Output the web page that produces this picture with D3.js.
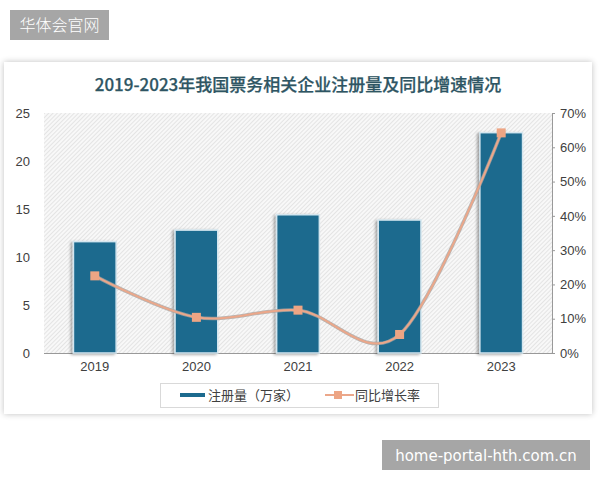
<!DOCTYPE html>
<meta charset="utf-8">
<style>
body { margin: 0; background: #fff; }
text { font-family: "Liberation Sans", "Noto Sans CJK SC", sans-serif; }
.cjk { font-family: "Noto Sans CJK SC", sans-serif; }
</style>
<body>
<script src="https://cdn.jsdelivr.net/npm/d3@7"></script>
<script>

var years = ["2019", "2020", "2021", "2022", "2023"];
var registered = [11.6, 12.8, 14.4, 13.85, 22.95];   // 万家
var growth = [22.5, 10.4, 12.5, 5.4, 64.2];          // %
var leftTicks = [0, 5, 10, 15, 20, 25];
var rightTicks = [0, 10, 20, 30, 40, 50, 60, 70];

var width = 600,
    height = 480;

var svg = d3.select("body").append("svg")
    .attr("width", width)
    .attr("height", height);

var defs = svg.append("defs");

// card shadow
var shadow = defs.append("filter").attr("id", "cardShadow")
    .attr("x", "-5%").attr("y", "-5%").attr("width", "110%").attr("height", "110%");
shadow.append("feGaussianBlur").attr("in", "SourceAlpha").attr("stdDeviation", 3);
shadow.append("feComponentTransfer").append("feFuncA").attr("type", "linear").attr("slope", 0.25);
var merge = shadow.append("feMerge");
merge.append("feMergeNode");
merge.append("feMergeNode").attr("in", "SourceGraphic");

// bar shadow
var barShadow = defs.append("filter").attr("id", "barShadow")
    .attr("x", "-30%").attr("y", "-10%").attr("width", "160%").attr("height", "120%");
barShadow.append("feGaussianBlur").attr("in", "SourceAlpha").attr("stdDeviation", 1.5);
barShadow.append("feOffset").attr("dx", -2).attr("dy", 1).attr("result", "off");
barShadow.append("feComponentTransfer").append("feFuncA").attr("type", "linear").attr("slope", 0.35);
var bm = barShadow.append("feMerge");
bm.append("feMergeNode");
bm.append("feMergeNode").attr("in", "SourceGraphic");

// hatch background
var hatch = defs.append("pattern").attr("id", "hatch")
    .attr("patternUnits", "userSpaceOnUse")
    .attr("width", 3).attr("height", 3)
    .attr("patternTransform", "rotate(45)");
hatch.append("rect").attr("width", 3).attr("height", 3).attr("fill", "#f8f8f8");
hatch.append("line").attr("x1", 0).attr("y1", 0).attr("x2", 0).attr("y2", 3)
    .attr("stroke", "#d0d0d0").attr("stroke-width", 1);

/*
  Watermarks
*/
svg.append("rect").attr("x", 10).attr("y", 10).attr("width", 99).attr("height", 30).attr("fill", "#a6a6a6");
svg.append("text").attr("class", "cjk").attr("x", 59.5).attr("y", 31)
    .attr("text-anchor", "middle").attr("fill", "#fff").attr("font-size", 16)
    .attr("font-weight", 300)
    .text("华体会官网");

svg.append("rect").attr("x", 382).attr("y", 440).attr("width", 208).attr("height", 30).attr("fill", "#a6a6a6");
svg.append("text").attr("x", 486).attr("y", 461)
    .attr("text-anchor", "middle").attr("fill", "#fff").attr("font-size", 15)
    .style("font-family", "'DejaVu Sans', sans-serif")
    .text("home-portal-hth.com.cn");

/*
  Card
*/
svg.append("rect")
    .attr("x", 4).attr("y", 62).attr("width", 588).attr("height", 352)
    .attr("fill", "#fff")
    .attr("filter", "url(#cardShadow)");

svg.append("text").attr("class", "cjk")
    .attr("x", 298).attr("y", 91)
    .attr("text-anchor", "middle")
    .attr("font-size", 17).attr("font-weight", 500)
    .attr("fill", "#2e5563")
    .attr("stroke", "#2e5563").attr("stroke-width", 0.25)
    .text("2019-2023年我国票务相关企业注册量及同比增速情况");

/*
  Scales
*/
var x = d3.scaleBand().domain(years).range([44, 552]).paddingInner(0.58).paddingOuter(0.29);
var yL = d3.scaleLinear().domain([0, 25]).range([353, 113]);
var yR = d3.scaleLinear().domain([0, 70]).range([353, 113]);

svg.append("rect")
    .attr("x", 44).attr("y", 113).attr("width", 508).attr("height", 240)
    .attr("fill", "url(#hatch)");

/*
  Axes
*/
var leftAxis = svg.append("g")
    .attr("transform", "translate(44,0)")
    .call(d3.axisLeft(yL).tickValues(leftTicks).tickSize(0).tickPadding(14));
leftAxis.select(".domain").remove();

var rightAxis = svg.append("g")
    .attr("transform", "translate(552,0)")
    .call(d3.axisRight(yR).tickValues(rightTicks).tickSize(3).tickPadding(5)
      .tickFormat(function(d) { return d + "%"; }));
rightAxis.select(".domain").attr("stroke", "#999");
rightAxis.selectAll(".tick line").attr("stroke", "#999");

var bottomAxis = svg.append("g")
    .attr("transform", "translate(0,353)")
    .call(d3.axisBottom(x).tickSize(0).tickPadding(9));
bottomAxis.select(".domain").attr("stroke", "#999").attr("d", "M44,0.5H552");

svg.selectAll(".tick text")
    .attr("font-size", 13)
    .attr("fill", "#404040")
    .style("font-family", "'Liberation Sans', sans-serif");

/*
  Bars
*/
svg.append("g").selectAll("rect")
    .data(registered)
    .enter().append("rect")
    .attr("x", function(d, i) { return x(years[i]); })
    .attr("y", function(d) { return yL(d); })
    .attr("width", x.bandwidth())
    .attr("height", function(d) { return yL(0) - yL(d); })
    .attr("fill", "#1c6a8e")
    .attr("stroke", "#d4e6ef")
    .attr("stroke-width", 1.5)
    .attr("filter", "url(#barShadow)");

/*
  Growth line
*/
var line = d3.line()
    .x(function(d, i) { return x(years[i]) + x.bandwidth() / 2; })
    .y(function(d) { return yR(d); })
    .curve(d3.curveCardinal.tension(0));

svg.append("path")
    .datum(growth)
    .attr("d", line)
    .attr("fill", "none")
    .attr("stroke", "#a9a4a0")
    .attr("stroke-width", 3.5)
    .attr("opacity", 0.8);

svg.append("path")
    .datum(growth)
    .attr("d", line)
    .attr("fill", "none")
    .attr("stroke", "#eba78a")
    .attr("stroke-width", 2);

svg.append("g").selectAll("rect")
    .data(growth)
    .enter().append("rect")
    .attr("x", function(d, i) { return x(years[i]) + x.bandwidth() / 2 - 4.5; })
    .attr("y", function(d) { return yR(d) - 4.5; })
    .attr("width", 9).attr("height", 9)
    .attr("fill", "#eda584");

/*
  Legend
*/
var legend = svg.append("g");
legend.append("rect")
    .attr("x", 160.5).attr("y", 383.5).attr("width", 278).attr("height", 24)
    .attr("fill", "#fff").attr("stroke", "#d9d9d9");

legend.append("rect")
    .attr("x", 180).attr("y", 393).attr("width", 25).attr("height", 4)
    .attr("fill", "#1c6a8e");
legend.append("text").attr("class", "cjk")
    .attr("x", 208).attr("y", 400)
    .attr("font-size", 13).attr("fill", "#404040")
    .text("注册量（万家）");

legend.append("line")
    .attr("x1", 325).attr("y1", 395).attr("x2", 354).attr("y2", 395)
    .attr("stroke", "#eba78a").attr("stroke-width", 2);
legend.append("rect")
    .attr("x", 334).attr("y", 391).attr("width", 8).attr("height", 8)
    .attr("fill", "#eda584");
legend.append("text").attr("class", "cjk")
    .attr("x", 355).attr("y", 400)
    .attr("font-size", 13).attr("fill", "#404040")
    .text("同比增长率");

</script>
